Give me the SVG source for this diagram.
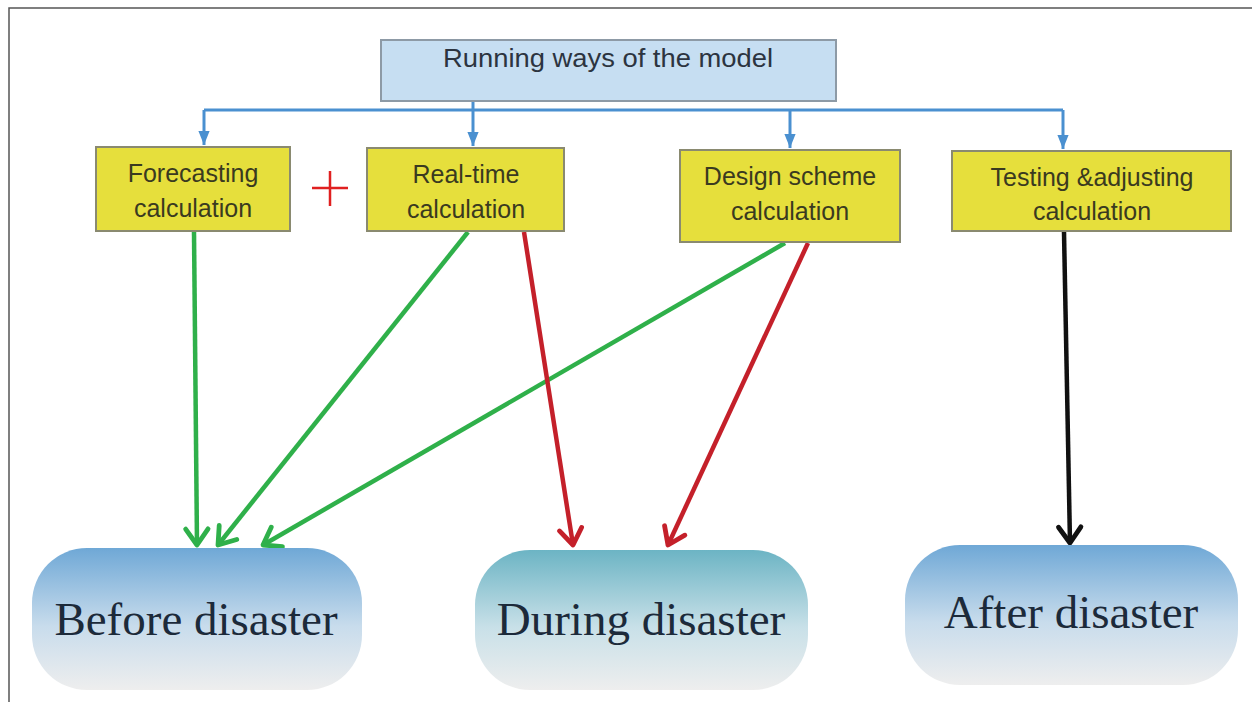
<svg xmlns="http://www.w3.org/2000/svg" width="1252" height="702" viewBox="0 0 1252 702">
<defs>
<style>
.title{fill:#c6def2;stroke:#8d9aa6;stroke-width:2}
.ybox{fill:#e6df3c;stroke:#8a8a70;stroke-width:2}
.ytxt{font-family:"Liberation Sans",Arial,sans-serif;font-size:25px;fill:#3a3a20;text-anchor:middle}
.ttxt{font-family:"Liberation Sans",Arial,sans-serif;font-size:25px;fill:#2c3440;text-anchor:middle}
.big{font-family:"Liberation Serif","Times New Roman",serif;font-size:47px;fill:#1c2a3a;text-anchor:middle}
.blue{stroke:#4a90d0;stroke-width:3;fill:none}
.g{stroke:#2fb04a;stroke-width:4.5;fill:none}
.r{stroke:#c4202a;stroke-width:4.5;fill:none}
.k{stroke:#111;stroke-width:4.5;fill:none}
</style>
<linearGradient id="gb" x1="0" y1="0" x2="0" y2="1">
<stop offset="0" stop-color="#6fa8d6"/><stop offset="0.55" stop-color="#c8dcec"/><stop offset="1" stop-color="#eeeeee"/>
</linearGradient>
<linearGradient id="gt" x1="0" y1="0" x2="0" y2="1">
<stop offset="0" stop-color="#6cb4c4"/><stop offset="0.55" stop-color="#c8e0e8"/><stop offset="1" stop-color="#eeeeee"/>
</linearGradient>
<marker id="ab" markerUnits="userSpaceOnUse" markerWidth="14" markerHeight="14" refX="10" refY="5" orient="auto" viewBox="0 0 10 10">
<path d="M0,1 L10,5 L0,9 Z" fill="#4a90d0"/>
</marker>
<marker id="ag" markerUnits="userSpaceOnUse" markerWidth="32" markerHeight="32" refX="13" refY="10" orient="auto" viewBox="0 0 20 20">
<path d="M3,3 L13,10 L3,17" fill="none" stroke="#2fb04a" stroke-width="3" stroke-linecap="round" stroke-linejoin="round"/>
</marker>
<marker id="ar" markerUnits="userSpaceOnUse" markerWidth="32" markerHeight="32" refX="13" refY="10" orient="auto" viewBox="0 0 20 20">
<path d="M3,3 L13,10 L3,17" fill="none" stroke="#c4202a" stroke-width="3" stroke-linecap="round" stroke-linejoin="round"/>
</marker>
<marker id="ak" markerUnits="userSpaceOnUse" markerWidth="32" markerHeight="32" refX="13" refY="10" orient="auto" viewBox="0 0 20 20">
<path d="M3,3 L13,10 L3,17" fill="none" stroke="#111" stroke-width="3" stroke-linecap="round" stroke-linejoin="round"/>
</marker>
</defs>
<rect x="0" y="0" width="1252" height="702" fill="#fff"/>
<path d="M9,702 L9,8 L1252,8" fill="none" stroke="#555" stroke-width="1.5"/>

<g id="connectors">
<path class="blue" d="M473,101 L473,110"/>
<path class="blue" d="M204,110 L1063,110"/>
<path class="blue" d="M204,110 L204,145" marker-end="url(#ab)"/>
<path class="blue" d="M473,110 L473,146" marker-end="url(#ab)"/>
<path class="blue" d="M790,110 L790,148" marker-end="url(#ab)"/>
<path class="blue" d="M1063,110 L1063,149" marker-end="url(#ab)"/>
<path class="g" d="M194,232 L197,545" marker-end="url(#ag)"/>
<path class="g" d="M468,232 L218,545" marker-end="url(#ag)"/>
<path class="g" d="M785,243 L263,545" marker-end="url(#ag)"/>
<path class="r" d="M524,232 L573,545" marker-end="url(#ar)"/>
<path class="r" d="M808,243 L668,545" marker-end="url(#ar)"/>
<path class="k" d="M1064,232 L1070,543" marker-end="url(#ak)"/>
</g>

<g id="title">
<rect class="title" x="381" y="40" width="455" height="61"/>
<text class="ttxt" x="608" y="67" textLength="330" lengthAdjust="spacingAndGlyphs">Running ways of the model</text>
</g>

<g id="forecasting">
<rect class="ybox" x="96" y="147" width="194" height="84"/>
<text class="ytxt" x="193" y="182">Forecasting</text>
<text class="ytxt" x="193" y="217">calculation</text>
</g>

<g id="plus">
<path d="M312,188 L348,188 M330,171 L330,206" stroke="#e02020" stroke-width="2.5" fill="none"/>
</g>

<g id="realtime">
<rect class="ybox" x="367" y="148" width="197" height="83"/>
<text class="ytxt" x="466" y="183">Real-time</text>
<text class="ytxt" x="466" y="218">calculation</text>
</g>

<g id="design">
<rect class="ybox" x="680" y="150" width="220" height="92"/>
<text class="ytxt" x="790" y="185">Design scheme</text>
<text class="ytxt" x="790" y="220">calculation</text>
</g>

<g id="testing">
<rect class="ybox" x="952" y="151" width="279" height="80"/>
<text class="ytxt" x="1092" y="186">Testing &amp;adjusting</text>
<text class="ytxt" x="1092" y="220">calculation</text>
</g>

<g id="before">
<rect x="32" y="548" width="330" height="142" rx="55" ry="55" fill="url(#gb)"/>
<text class="big" x="196" y="635">Before disaster</text>
</g>

<g id="during">
<rect x="475" y="550" width="333" height="140" rx="55" ry="55" fill="url(#gt)"/>
<text class="big" x="641" y="635">During disaster</text>
</g>

<g id="after">
<rect x="905" y="545" width="333" height="140" rx="55" ry="55" fill="url(#gb)"/>
<text class="big" x="1071" y="628">After disaster</text>
</g>
</svg>
